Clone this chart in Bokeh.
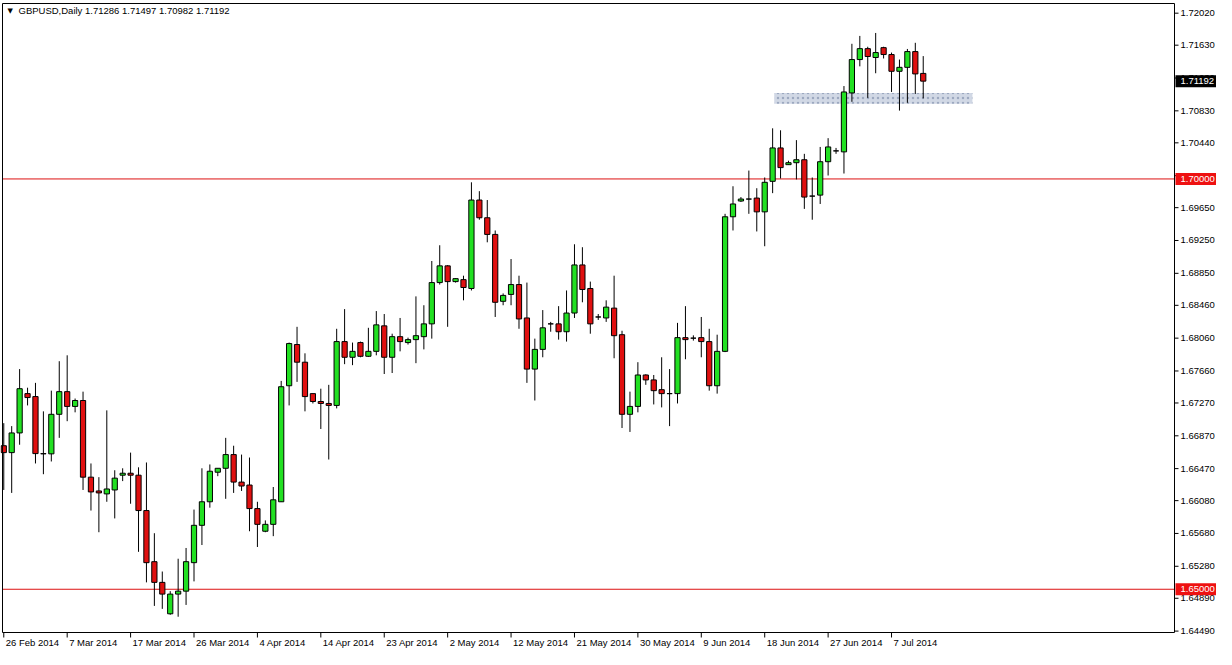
import pandas as pd
from bokeh.plotting import figure
from bokeh.models import Range1d
from bokeh.core.properties import value
from bokeh.embed import file_html
from bokeh.resources import INLINE

symbol_title = "GBPUSD,Daily"
first_date = "2014-02-26"

open_ = [1.66749, 1.66665, 1.66905, 1.67384, 1.67348, 1.66653, 1.66650, 1.67132, 1.67408, 1.67228,
         1.67300, 1.66366, 1.66198, 1.66162, 1.66210, 1.66390, 1.66414, 1.66390, 1.65959, 1.65336,
         1.65084, 1.64701, 1.64941, 1.64977, 1.65324, 1.65779, 1.66066, 1.66426, 1.66474, 1.66641,
         1.66306, 1.66270, 1.65983, 1.65707, 1.65791, 1.66066, 1.67480, 1.67982, 1.67767, 1.67384,
         1.67288, 1.67264, 1.67240, 1.68018, 1.67827, 1.68006, 1.67839, 1.67899, 1.68210, 1.67827,
         1.68078, 1.68006, 1.68042, 1.68078, 1.68234, 1.68737, 1.68941, 1.68749, 1.68773, 1.68665,
         1.69743, 1.69527, 1.69324, 1.68509, 1.68593, 1.68713, 1.68306, 1.67683, 1.67923, 1.68234,
         1.68234, 1.68138, 1.68366, 1.68952, 1.68665, 1.68318, 1.68306, 1.68426, 1.68102, 1.67132,
         1.67228, 1.67611, 1.67551, 1.67432, 1.67384, 1.67384, 1.68066, 1.68060, 1.68066, 1.68018,
         1.67480, 1.67899, 1.69539, 1.69731, 1.69755, 1.69767, 1.69599, 1.69971, 1.70378, 1.70174,
         1.70198, 1.70234, 1.69791, 1.69803, 1.70210, 1.70342, 1.70330, 1.71048, 1.71455, 1.71588,
         1.71480, 1.71600, 1.71516, 1.71312, 1.71360, 1.71552, 1.71286]
high = [1.67024, 1.66988, 1.67683, 1.67456, 1.67515, 1.67168, 1.67420, 1.67779, 1.67851, 1.67324,
        1.67408, 1.66533, 1.66366, 1.67180, 1.66450, 1.66474, 1.66665, 1.66486, 1.66545, 1.65683,
        1.65216, 1.64977, 1.65372, 1.65503, 1.65971, 1.66474, 1.66521, 1.66474, 1.66845, 1.66749,
        1.66641, 1.66605, 1.66066, 1.65839, 1.66246, 1.67539, 1.68006, 1.68198, 1.67875, 1.67384,
        1.67444, 1.67491, 1.68174, 1.68414, 1.68006, 1.68018, 1.68186, 1.68390, 1.68354, 1.68114,
        1.68306, 1.68066, 1.68569, 1.68461, 1.69000, 1.69192, 1.68950, 1.68790, 1.68821, 1.69959,
        1.69851, 1.69743, 1.69372, 1.68605, 1.69024, 1.68821, 1.68737, 1.68054, 1.68402, 1.68258,
        1.68450, 1.68641, 1.69204, 1.69168, 1.68749, 1.68354, 1.68521, 1.68821, 1.68150, 1.67408,
        1.67767, 1.67620, 1.67611, 1.67827, 1.67683, 1.68246, 1.68450, 1.68094, 1.68318, 1.68174,
        1.68102, 1.69575, 1.69911, 1.69779, 1.70102, 1.69887, 1.70018, 1.70617, 1.70593, 1.70222,
        1.70473, 1.70306, 1.70018, 1.70390, 1.70497, 1.70378, 1.71132, 1.71647, 1.71743, 1.71611,
        1.71779, 1.71611, 1.71540, 1.71455, 1.71584, 1.71659, 1.71497]
low = [1.66210, 1.66174, 1.66761, 1.67240, 1.66533, 1.66402, 1.66557, 1.66845, 1.67048, 1.67156,
       1.66210, 1.65959, 1.65695, 1.66066, 1.65863, 1.66318, 1.66042, 1.65456, 1.65084, 1.64797,
       1.64761, 1.64689, 1.64665, 1.64809, 1.65096, 1.65539, 1.65994, 1.66378, 1.66102, 1.66174,
       1.66198, 1.65707, 1.65515, 1.65695, 1.65647, 1.66066, 1.67240, 1.67527, 1.67168, 1.67264,
       1.66953, 1.66581, 1.67204, 1.67743, 1.67731, 1.67827, 1.67830, 1.67851, 1.67623, 1.67635,
       1.67899, 1.67982, 1.67755, 1.67923, 1.68054, 1.68713, 1.68198, 1.68737, 1.68521, 1.68641,
       1.69503, 1.69228, 1.68318, 1.68461, 1.68461, 1.68174, 1.67515, 1.67300, 1.67827, 1.68138,
       1.68042, 1.68018, 1.68306, 1.68497, 1.68114, 1.68282, 1.68258, 1.67815, 1.66965, 1.66917,
       1.67156, 1.67491, 1.67252, 1.67216, 1.66988, 1.67264, 1.67803, 1.68030, 1.67827, 1.67420,
       1.67384, 1.67890, 1.69372, 1.69719, 1.69575, 1.69360, 1.69180, 1.69827, 1.70006, 1.70170,
       1.69994, 1.69635, 1.69503, 1.69695, 1.70042, 1.70306, 1.70066, 1.70940, 1.71372, 1.70988,
       1.71288, 1.71468, 1.71060, 1.70833, 1.70928, 1.71036, 1.70982]
close = [1.66665, 1.66905, 1.67444, 1.67336, 1.66653, 1.66650, 1.67132, 1.67408, 1.67228, 1.67300,
         1.66366, 1.66186, 1.66174, 1.66222, 1.66354, 1.66414, 1.66390, 1.65959, 1.65324, 1.65084,
         1.64941, 1.64941, 1.64977, 1.65336, 1.65779, 1.66066, 1.66438, 1.66474, 1.66641, 1.66306,
         1.66258, 1.65983, 1.65791, 1.65791, 1.66090, 1.67468, 1.67994, 1.67767, 1.67348, 1.67288,
         1.67264, 1.67240, 1.68018, 1.67827, 1.67899, 1.67839, 1.67899, 1.68222, 1.67827, 1.68078,
         1.68018, 1.68042, 1.68090, 1.68234, 1.68737, 1.68941, 1.68749, 1.68785, 1.68677, 1.69743,
         1.69527, 1.69324, 1.68497, 1.68581, 1.68713, 1.68294, 1.67683, 1.67923, 1.68186, 1.68234,
         1.68138, 1.68366, 1.68952, 1.68653, 1.68234, 1.68318, 1.68438, 1.68090, 1.67132, 1.67228,
         1.67611, 1.67551, 1.67420, 1.67384, 1.67384, 1.68066, 1.68042, 1.68060, 1.68018, 1.67480,
         1.67899, 1.69539, 1.69695, 1.69755, 1.69755, 1.69599, 1.69959, 1.70378, 1.70138, 1.70198,
         1.70234, 1.69779, 1.69791, 1.70210, 1.70390, 1.70342, 1.71060, 1.71455, 1.71588, 1.71492,
         1.71540, 1.71516, 1.71312, 1.71360, 1.71552, 1.71280, 1.71192]

date_labels = ["26 Feb 2014", "7 Mar 2014", "17 Mar 2014", "26 Mar 2014", "4 Apr 2014",
               "14 Apr 2014", "23 Apr 2014", "2 May 2014", "12 May 2014", "21 May 2014",
               "30 May 2014", "9 Jun 2014", "18 Jun 2014", "27 Jun 2014", "7 Jul 2014"]
y_ticks = [1.72020, 1.71630, 1.71230, 1.70830, 1.70440, 1.70040, 1.69650, 1.69250, 1.68850,
           1.68460, 1.68060, 1.67660, 1.67270, 1.66870, 1.66470, 1.66080, 1.65680, 1.65280,
           1.64890, 1.64490]
level_lines = [1.70000, 1.65000]
zone_low, zone_high = 1.70917, 1.71048
zone_first_bar, zone_last_bar = 97.2, 122.2
view_first_bar, view_last_bar = -0.16, 147.7
price_min, price_max = 1.64473, 1.72138

BULL = "#22e022"
BEAR = "#e01010"
LEVEL = "#dd1010"
TAG_RED = "#ee1111"
FONT = "Liberation Sans"
FS = "9.5px"

# ---- pixel layout of the chart box inside the figure ----
FIG_W, FIG_H = 1216, 649
CH_L, CH_R, CH_T, CH_B = 2, 1174, 3, 632
ppx = (CH_R - CH_L) / (view_last_bar - view_first_bar)   # px per bar
ppy = (CH_B - CH_T) / (price_max - price_min)             # px per price unit
x_lo = view_first_bar - CH_L / ppx
x_hi = view_last_bar + (FIG_W - CH_R) / ppx
y_lo = price_min - (FIG_H - CH_B) / ppy
y_hi = price_max + CH_T / ppy
dx = lambda px: px / ppx
dy = lambda px: px / ppy

n = len(open_)
all_days = pd.date_range(first_date, periods=2 * n, freq="D")
days = [d for d in all_days if d.dayofweek != 5][:n]
day_strs = [f"{d.day} {d.strftime('%b')} {d.year}" for d in days]
idx = list(range(n))
tick_pos = [i for i, s in enumerate(day_strs) if s in date_labels]
tick_txt = [day_strs[i] for i in tick_pos]

body_top = [max(o, c) for o, c in zip(open_, close)]
body_bot = [min(o, c) for o, c in zip(open_, close)]
colors = [BULL if c > o else (BEAR if c < o else "black") for o, c in zip(open_, close)]

p = figure(width=FIG_W, height=FIG_H, output_backend="svg", toolbar_location=None,
           x_range=Range1d(x_lo, x_hi), y_range=Range1d(y_lo, y_hi),
           x_axis_location=None, y_axis_location=None,
           min_border=0, min_border_left=0, min_border_right=0, min_border_top=0,
           min_border_bottom=0, background_fill_color="white", border_fill_color="white")
p.outline_line_color = None
p.xgrid.visible = False
p.ygrid.visible = False

# support zone drawn by the analyst
p.quad(left=[zone_first_bar], right=[zone_last_bar], bottom=[zone_low], top=[zone_high],
       fill_color="#ccd4e2", fill_alpha=0.9, line_color=None,
       hatch_pattern="dot", hatch_color="#8e9cb6", hatch_scale=5, hatch_weight=2, hatch_alpha=0.8)

# horizontal levels
p.segment(x0=[view_first_bar] * len(level_lines), x1=[view_last_bar] * len(level_lines),
          y0=level_lines, y1=level_lines, line_color=LEVEL, line_width=1)

# candles
p.segment(x0=idx, y0=low, x1=idx, y1=high, line_color="black", line_width=1)
p.vbar(x=idx, top=body_top, bottom=body_bot, width=0.66, fill_color=colors,
       line_color="black", line_width=1)

# chart box
p.quad(left=[view_first_bar], right=[view_last_bar], bottom=[price_min], top=[price_max],
       fill_color=None, line_color="black", line_width=1)

# price scale (right)
nt = len(y_ticks)
p.segment(x0=[view_last_bar] * nt, x1=[view_last_bar + dx(4)] * nt, y0=y_ticks, y1=y_ticks,
          line_color="black", line_width=1)
p.text(x=[view_last_bar] * nt, y=y_ticks, text=[f"{t:.5f}" for t in y_ticks], x_offset=6,
       text_font=value(FONT), text_font_size=FS, text_baseline="middle", text_align="left",
       text_color="black")

# price tags
tag_prices = level_lines + [close[-1]]
tag_colors = [TAG_RED] * len(level_lines) + ["black"]
TAG_W, TAG_H = 42, 12
p.rect(x=[view_last_bar + dx(1 + TAG_W / 2)] * len(tag_prices), y=tag_prices,
       width=TAG_W, height=TAG_H, width_units="screen", height_units="screen",
       fill_color=tag_colors, line_color=None)
p.text(x=[view_last_bar] * len(tag_prices), y=tag_prices, text=[f"{t:.5f}" for t in tag_prices],
       x_offset=6, text_font=value(FONT), text_font_size=FS, text_baseline="middle",
       text_align="left", text_color="white")

# time scale (bottom)
nd = len(tick_pos)
p.segment(x0=tick_pos, x1=tick_pos, y0=[price_min] * nd, y1=[price_min - dy(5)] * nd,
          line_color="black", line_width=1)
p.text(x=tick_pos, y=[price_min - dy(4)] * nd, text=tick_txt, x_offset=2,
       text_font=value(FONT), text_font_size=FS, text_baseline="top", text_align="left",
       text_color="black")

# header
header = f"{symbol_title}  {open_[-1]:.5f} {high[-1]:.5f} {low[-1]:.5f} {close[-1]:.5f}"
p.text(x=[view_first_bar], y=[price_max - dy(7)], text=["\u25bc"], x_offset=5,
       text_font=value("DejaVu Sans"), text_font_size="7px", text_baseline="middle",
       text_align="left", text_color="black")
p.text(x=[view_first_bar], y=[price_max - dy(7)], text=[header], x_offset=16,
       text_font=value(FONT), text_font_size=FS, text_baseline="middle", text_align="left",
       text_color="black")

open("out.html", "w").write(file_html(p, INLINE))
